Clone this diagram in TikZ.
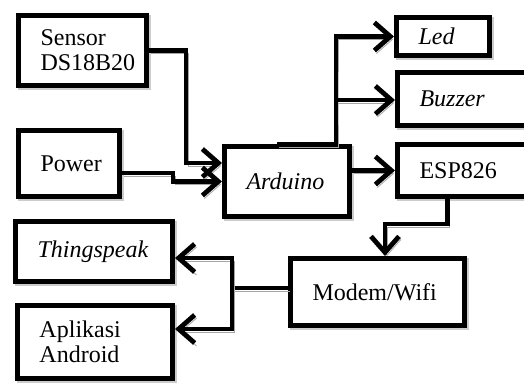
\documentclass[tikz,border=0pt]{standalone}
\usepackage{fontspec}
\setmainfont{Liberation Serif}
\usetikzlibrary{arrows.meta}
\tikzset{
  box/.style={draw, line width=2.5pt, fill=white, align=left, inner xsep=11pt, inner ysep=0pt, font=\fontsize{12}{12.5}\selectfont,
    preaction={draw=black!20, line width=2.5pt, transform canvas={shift={(1pt,-1pt)}}}},
  wire/.style={line width=2.4pt, preaction={draw=black!35, transform canvas={shift={(1pt,-1.5pt)}}}},
  edge/.style={wire, -{Straight Barb[length=8pt, width=14pt]}}
}

\begin{document}
\begin{tikzpicture}[x=0.5pt, y=-0.5pt]
\clip (0,0) rectangle (524,382);
\node[box, text width=42pt, minimum height=35pt] (sensor) at (82.5,50.5) {Sensor\\DS18B20};
\node[box, text width=28.5pt, minimum height=33pt] (power) at (69,163.5) {Power};
\node[box, text width=40.5pt, minimum height=35pt] (ard) at (287,181.5) {\textit{Arduino}};
\node[box, text width=24.5pt, minimum height=19pt] (led) at (443,36.5) {\raisebox{-2.5pt}{\textit{Led}}};
\node[box, text width=46.75pt, minimum height=26.5pt] (buz) at (466.25,99) {\textit{Buzzer}};
\node[box, text width=46.75pt, minimum height=26pt] (esp) at (466.25,170.5) {ESP826};
\node[box, text width=65pt, minimum height=33.5pt] (modem) at (377.5,292) {Modem/Wifi};
\node[box, text width=56.5pt, minimum height=30pt] (ts) at (94,251.5) {\textit{Thingspeak}};
\node[box, text width=55.5pt, minimum height=36.5pt] (app) at (95,342) {Aplikasi\\Android};

\coordinate (fork) at (336,100);
\coordinate (join) at (232,288);

\draw[edge] (sensor.east) -- ++(37,0) |- ([yshift=9.25pt]ard.west);
\draw[edge] ([yshift=-4.75pt]power.east) -- ++(51,0) |- (ard.west);
\draw[edge] ([xshift=-5pt]ard.north) -| (fork) |- (led.west);
\draw[edge] (fork) -- (fork -| buz.west);
\draw[edge] (ard.east |- esp.west) -- (esp.west);
\draw[edge] ([xshift=-9.5pt]esp.south) -- ++(0,25) -| ([xshift=3.75pt]modem.north);
\draw[wire] (modem.west |- join) -- (join);
\draw[edge] (join) |- ([yshift=-3.25pt]ts.east);
\draw[edge] (join) |- ([yshift=6.5pt]app.east);
\end{tikzpicture}
\end{document}
